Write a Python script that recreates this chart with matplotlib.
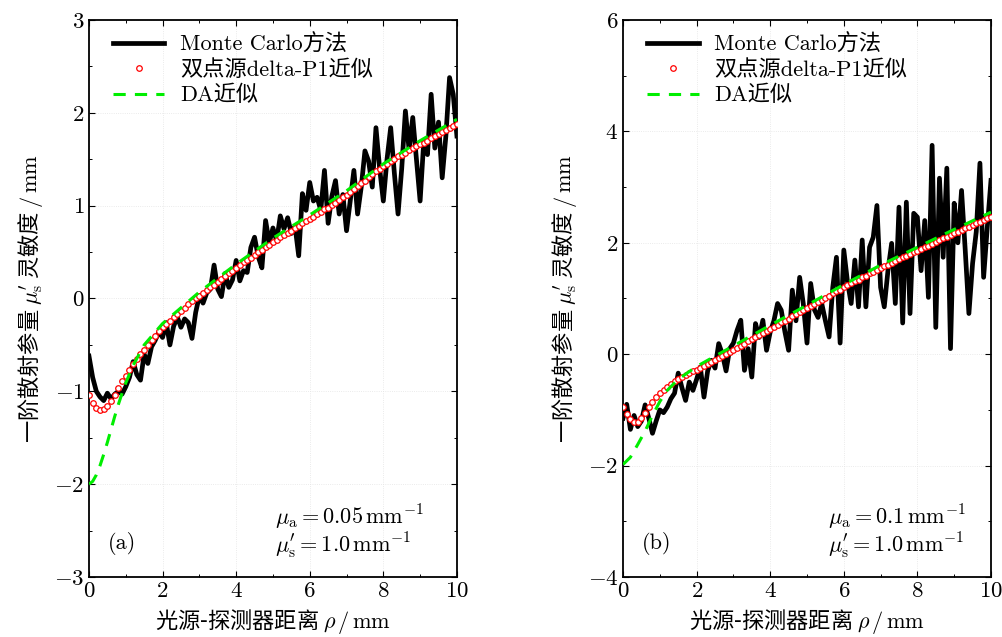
import numpy as np
import matplotlib
matplotlib.use("Agg")
import matplotlib.pyplot as plt
from matplotlib.ticker import MultipleLocator

plt.rcParams["font.family"] = ["cmr10", "Noto Sans CJK SC"]
plt.rcParams["mathtext.fontset"] = "cm"
plt.rcParams["axes.formatter.use_mathtext"] = True
plt.rcParams["axes.unicode_minus"] = True

# ---- panel (a): mu_a = 0.05 /mm ----
x_grid = np.round(np.arange(0, 10.01, 0.1), 2)

mc_a_y = [-0.62, -0.85, -1.00, -1.06, -1.10, -1.02, -1.08, -1.03, -1.00, -1.03,
          -0.95, -0.85, -0.68, -0.82, -0.88, -0.60, -0.70, -0.52, -0.45, -0.36,
          -0.42, -0.26, -0.50, -0.30, -0.20, -0.31, -0.22, -0.26, -0.43, -0.15,
          0.03, -0.05, 0.06, 0.10, 0.36, 0.10, 0.02, 0.27, 0.12, 0.20,
          0.41, 0.19, 0.30, 0.28, 0.55, 0.66, 0.45, 0.33, 0.84, 0.60,
          0.76, 0.62, 0.89, 0.75, 0.87, 0.70, 0.78, 0.46, 1.13, 0.95,
          1.25, 1.05, 1.09, 0.95, 1.38, 0.81, 1.10, 1.27, 0.91, 1.12,
          0.73, 1.05, 1.38, 0.91, 1.20, 1.59, 1.48, 1.20, 1.84, 1.40,
          1.05, 1.50, 1.84, 1.35, 0.91, 1.40, 2.02, 1.60, 1.95, 1.50,
          1.05, 1.70, 1.55, 2.20, 1.62, 1.90, 1.30, 1.75, 2.38, 2.20,
          1.75]

p1_a_y = [-1.04, -1.13, -1.18, -1.20, -1.19, -1.16, -1.10, -1.04, -0.96, -0.89,
          -0.83, -0.77, -0.71, -0.65, -0.60, -0.55, -0.50, -0.45, -0.40, -0.35,
          -0.31, -0.27, -0.24, -0.20, -0.17, -0.13, -0.10, -0.06, -0.03, 0.00,
          0.03, 0.06, 0.09, 0.12, 0.15, 0.18, 0.21, 0.24, 0.27, 0.30,
          0.33, 0.36, 0.39, 0.41, 0.44, 0.47, 0.50, 0.52, 0.55, 0.58,
          0.61, 0.63, 0.66, 0.68, 0.71, 0.73, 0.76, 0.78, 0.81, 0.83,
          0.86, 0.88, 0.91, 0.93, 0.96, 0.98, 1.01, 1.03, 1.06, 1.09,
          1.12, 1.15, 1.18, 1.21, 1.24, 1.27, 1.31, 1.34, 1.37, 1.40,
          1.43, 1.45, 1.48, 1.50, 1.53, 1.55, 1.57, 1.60, 1.62, 1.64,
          1.66, 1.68, 1.70, 1.73, 1.75, 1.77, 1.79, 1.82, 1.84, 1.86,
          1.88]

da_a_x = [0.0, 0.1, 0.2, 0.3, 0.4, 0.5, 0.6, 0.7, 0.8, 0.9, 1.0, 1.2, 1.5,
          2.0, 3.0, 4.0, 5.0, 6.0, 7.0, 8.0, 9.0, 10.0]
da_a_y = [-2.00, -1.97, -1.90, -1.80, -1.68, -1.55, -1.41, -1.27, -1.14, -1.02, -0.91,
          -0.72, -0.50, -0.27, 0.07, 0.37, 0.65, 0.90, 1.16, 1.45, 1.70, 1.93]

# ---- panel (b): mu_a = 0.1 /mm ----
mc_b_y = [-1.15, -0.90, -1.35, -1.10, -1.30, -1.20, -0.91, -1.15, -1.42, -1.20,
          -1.00, -1.05, -0.95, -0.80, -0.70, -0.34, -0.60, -0.83, -0.50, -0.65,
          -0.45, -0.23, -0.77, -0.30, -0.11, -0.25, 0.19, 0.00, -0.30, 0.10,
          0.20, 0.43, 0.61, -0.29, 0.10, -0.41, 0.55, 0.30, 0.61, 0.07,
          0.40, 0.60, 0.91, 0.79, 0.40, 0.07, 1.15, 0.60, 1.38, 0.90,
          0.20, 1.27, 0.80, 0.66, 0.91, 0.60, 0.31, 1.20, 1.74, 0.20,
          1.87, 1.30, 0.91, 1.69, 0.85, 2.05, 0.85, 1.92, 2.10, 2.67,
          1.20, 0.85, 1.50, 1.99, 0.91, 2.64, 0.56, 2.73, 0.73, 2.53,
          2.46, 1.50, 2.40, 1.02, 3.75, 0.48, 3.16, 1.74, 3.34, 0.10,
          2.71, 2.00, 2.94, 1.87, 0.73, 1.63, 2.20, 3.43, 1.38, 2.28,
          3.12]

p1_b_y = [-0.95, -1.08, -1.17, -1.21, -1.21, -1.15, -1.06, -0.95, -0.85, -0.76,
          -0.70, -0.64, -0.58, -0.53, -0.49, -0.45, -0.41, -0.38, -0.34, -0.31,
          -0.28, -0.24, -0.21, -0.17, -0.14, -0.10, -0.07, -0.03, 0.00, 0.04,
          0.08, 0.11, 0.15, 0.19, 0.23, 0.27, 0.30, 0.34, 0.38, 0.41,
          0.45, 0.49, 0.53, 0.57, 0.60, 0.64, 0.68, 0.72, 0.76, 0.79,
          0.83, 0.87, 0.90, 0.94, 0.98, 1.01, 1.05, 1.09, 1.13, 1.16,
          1.20, 1.24, 1.27, 1.31, 1.34, 1.38, 1.41, 1.45, 1.48, 1.52,
          1.55, 1.58, 1.61, 1.64, 1.67, 1.71, 1.74, 1.77, 1.80, 1.83,
          1.86, 1.89, 1.92, 1.95, 1.98, 2.02, 2.05, 2.08, 2.11, 2.14,
          2.17, 2.20, 2.23, 2.26, 2.29, 2.32, 2.35, 2.38, 2.41, 2.44,
          2.47]

da_b_x = [0.0, 0.2, 0.4, 0.6, 0.8, 1.0, 1.2, 1.5, 2.0, 3.0, 4.0, 5.0, 6.0,
          7.0, 8.0, 9.0, 10.0]
da_b_y = [-1.98, -1.85, -1.62, -1.38, -1.10, -0.85, -0.65, -0.45, -0.22, 0.15, 0.52,
          0.88, 1.25, 1.60, 1.92, 2.24, 2.55]

panels = [
    dict(ax_left=0.0888, mc=(x_grid, mc_a_y), p1=(x_grid, p1_a_y), da=(da_a_x, da_a_y),
         ylim=(-3, 3), major=1, minor=0.5, tag="(a)",
         mua=r"$\mu_\mathrm{a} = 0.05\,\mathrm{mm}^{-1}$", txt_x=0.505),
    dict(ax_left=0.6218, mc=(x_grid, mc_b_y), p1=(x_grid, p1_b_y), da=(da_b_x, da_b_y),
         ylim=(-4, 6), major=2, minor=1, tag="(b)",
         mua=r"$\mu_\mathrm{a} = 0.1\,\mathrm{mm}^{-1}$", txt_x=0.557),
]

cjk = ["Noto Sans CJK SC"]

fig = plt.figure(figsize=(10.02, 6.37), dpi=100)

for p in panels:
    ax = fig.add_axes([p["ax_left"], 0.0942, 0.3672, 0.8744])

    ax.plot(*p["mc"], color="black", lw=3.4, label="Monte Carlo方法", zorder=2)
    ax.plot(*p["p1"], ls="none", marker="o", ms=4.0, mfc="white", mec="red",
            mew=0.9, label="双点源delta-P1近似", zorder=3)
    ax.plot(*p["da"], color="#00ee00", lw=2.2, ls=(0, (4, 3)),
            label="DA近似", zorder=4)

    ax.set_xlim(0, 10)
    ax.set_ylim(*p["ylim"])
    ax.xaxis.set_major_locator(MultipleLocator(2))
    ax.xaxis.set_minor_locator(MultipleLocator(1))
    ax.yaxis.set_major_locator(MultipleLocator(p["major"]))
    ax.yaxis.set_minor_locator(MultipleLocator(p["minor"]))
    ax.tick_params(which="both", direction="in", top=True, right=True, labelsize=16.5)
    ax.tick_params(which="major", length=4, width=0.8)
    ax.tick_params(which="minor", length=2.5, width=0.7)
    ax.grid(True, which="major", color="#e4e4e4", ls=":", lw=0.6)
    for s in ax.spines.values():
        s.set_linewidth(1.3)

    # CJK words first, math parts rendered with the cm math fonts
    ax.set_xlabel(r"光源-探测器距离 $\rho\,/\,\mathrm{mm}$", fontsize=16,
                  fontfamily=cjk, labelpad=4)
    ax.set_ylabel(r"一阶散射参量 $\mu_\mathrm{s}'$ 灵敏度 $/\,\mathrm{mm}$", fontsize=16,
                  fontfamily=cjk, labelpad=6)

    ax.legend(loc="upper left", frameon=False, fontsize=16, handlelength=2.3,
              handletextpad=0.7, labelspacing=0.22, borderaxespad=0.2,
              bbox_to_anchor=(0.03, 1.0), numpoints=1)

    ax.text(0.052, 0.061, p["tag"], transform=ax.transAxes, fontsize=16, va="center")
    ax.text(p["txt_x"], 0.106, p["mua"], transform=ax.transAxes, fontsize=16, va="center")
    ax.text(p["txt_x"], 0.058, r"$\mu_\mathrm{s}' = 1.0\,\mathrm{mm}^{-1}$",
            transform=ax.transAxes, fontsize=16, va="center")

fig.savefig("out.png", dpi=100)
